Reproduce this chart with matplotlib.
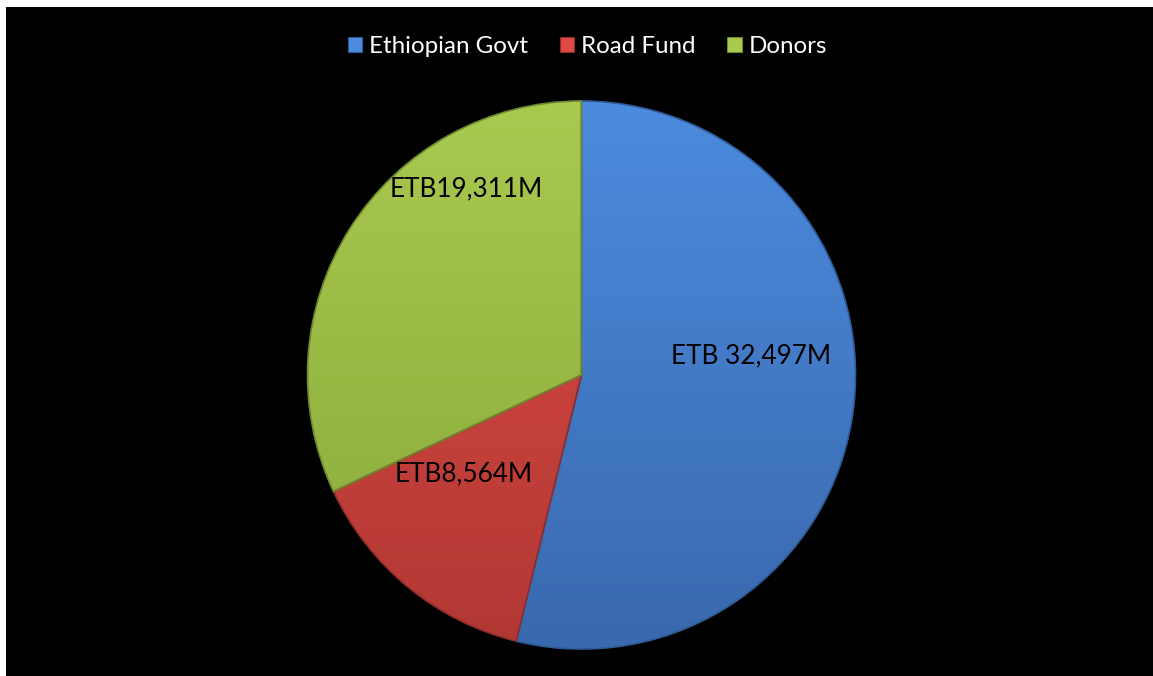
import numpy as np
import matplotlib
matplotlib.use('Agg')
import matplotlib.pyplot as plt
from matplotlib.colors import LinearSegmentedColormap

# Road sector funding sources (ETB millions)
sources = ["Ethiopian Govt", "Road Fund", "Donors"]
amounts = [32497, 8564, 19311]
value_labels = ["ETB 32,497M", "ETB8,564M", "ETB19,311M"]

# light / dark ends of each slice's shading
light_colors = ["#4C8BDE", "#DE4B45", "#A9C94F"]
dark_colors = ["#3969AE", "#B23834", "#88A83B"]
edge_colors = ["#2F5A96", "#8F2C29", "#6E8A2E"]

# where each value label sits, in pie units
label_pos = [(0.62, 0.07), (-0.43, -0.36), (-0.42, 0.68)]

plt.rcParams['font.family'] = ['Lato', 'DejaVu Sans']

fig = plt.figure(figsize=(11.53, 6.76), dpi=100)
fig.patch.set_facecolor("white")
# black panel with a thin white margin on top and left
bg = fig.add_axes([6 / 1153, 0, 1 - 6 / 1153, 1 - 7 / 676])
bg.set_facecolor("black")
bg.set_xticks([])
bg.set_yticks([])
for s in bg.spines.values():
    s.set_visible(False)

ax = fig.add_axes([0.2667, 0.0399, 0.4753, 0.8107])
ax.set_facecolor("black")
wedges, _ = ax.pie(amounts, startangle=90, counterclock=False,
                   colors=light_colors,
                   wedgeprops=dict(edgecolor="none", linewidth=0))

grad = np.linspace(1, 0, 256).reshape(-1, 1)
for w, lc, dc, ec in zip(wedges, light_colors, dark_colors, edge_colors):
    cmap = LinearSegmentedColormap.from_list("shade", [dc, lc])
    im = ax.imshow(grad, cmap=cmap, extent=(-1, 1, -1, 1), aspect="auto",
                   origin="upper", zorder=2)
    im.set_clip_path(w)
    w.set_facecolor("none")
    w.set_edgecolor(ec)
    w.set_linewidth(1.2)
    w.set_zorder(3)

for (x, y), txt in zip(label_pos, value_labels):
    ax.text(x, y, txt, ha="center", va="center", fontsize=18.8,
            color="black", zorder=4)

ax.set_xlim(-1, 1)
ax.set_ylim(-1, 1)
ax.set_aspect("equal")
ax.axis("off")

handles = [plt.Rectangle((0, 0), 1, 1, facecolor=c, edgecolor=e, linewidth=0.8)
           for c, e in zip(light_colors, edge_colors)]
leg = fig.legend(handles, sources, loc="center", bbox_to_anchor=(0.5096, 0.931),
                 ncol=3, frameon=False, fontsize=17.4, labelcolor="white",
                 handlelength=0.6, handleheight=0.6, handletextpad=0.3,
                 columnspacing=1.3)

fig.savefig("out.png", dpi=100, facecolor=fig.get_facecolor())
